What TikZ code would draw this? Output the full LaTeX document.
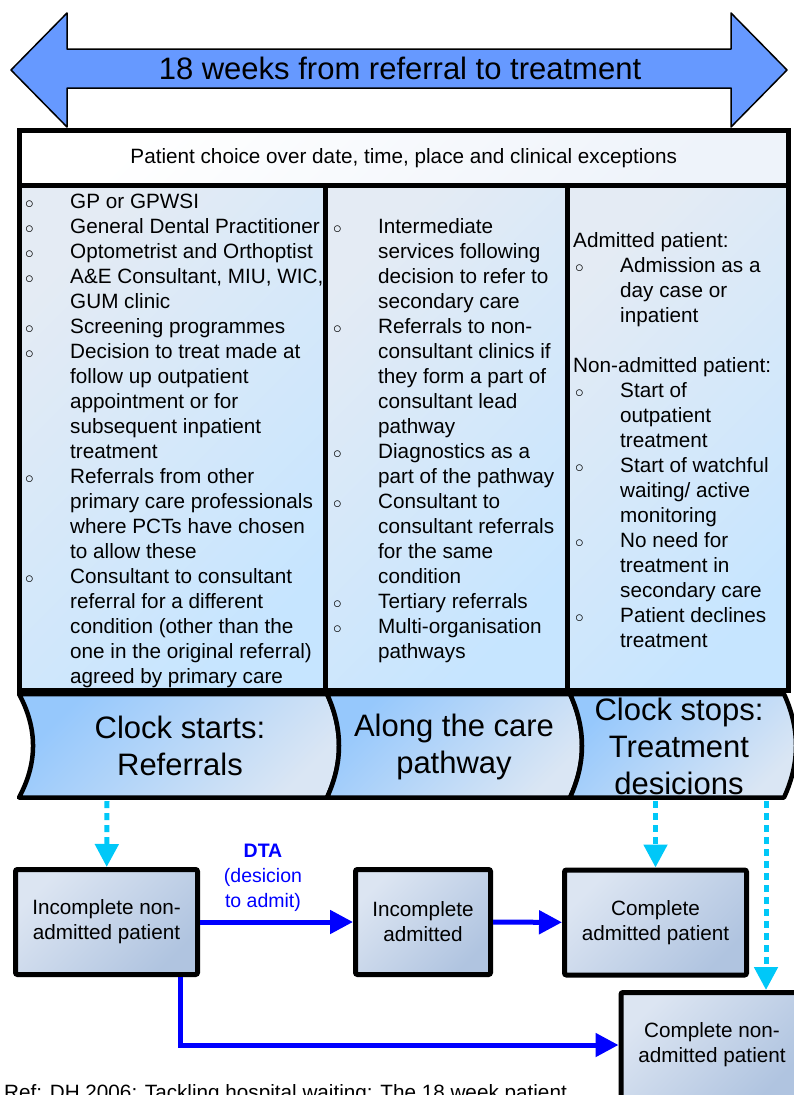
\documentclass[tikz,border=0pt]{standalone}
\usepackage{fontspec}
\setmainfont{Liberation Sans}
\usetikzlibrary{arrows.meta}
\definecolor{arrowfill}{HTML}{6699FF}
\definecolor{hdrdark}{HTML}{EEF3FA}
\definecolor{collight}{HTML}{E4EBF4}
\definecolor{coldark}{HTML}{C6E5FF}
\definecolor{bandlight}{HTML}{96C8FC}
\definecolor{banddark}{HTML}{DAE6F4}
\definecolor{boxlight}{HTML}{DCE5F2}
\definecolor{boxdark}{HTML}{B0C4E0}
\definecolor{flowblue}{HTML}{0000FF}
\definecolor{clockcyan}{HTML}{00C8F8}
\newcommand\bul{\hspace*{2pt}{\fontsize{18pt}{18pt}\selectfont$\circ$}}
\begin{document}
\begin{tikzpicture}[x=1pt,y=-1pt,
  frame/.style={draw=black,line width=5pt},
  colbox/.style={frame,top color=collight,bottom color=coldark,shading angle=45,minimum height=505pt},
  coltext/.style={anchor=north west,inner sep=0pt,font=\fontsize{20.7pt}{25pt}\selectfont},
  bandseg/.style={draw=black,line width=4.5pt,line join=round,top color=bandlight,bottom color=banddark,shading angle=45},
  bandtext/.style={align=center,font=\fontsize{31pt}{37pt}\selectfont},
  patbox/.style={draw=black,line width=5pt,rounded corners=2pt,top color=boxlight,bottom color=boxdark,shading angle=45,minimum height=105pt,align=center,font=\fontsize{20.7pt}{25pt}\selectfont},
  flow/.style={draw=flowblue,line width=5pt,-{Triangle[length=23pt,width=23pt]}},
  clock/.style={draw=clockcyan,line width=5pt,dash pattern=on 7pt off 5pt,-{Triangle[length=23pt,width=23pt]}},
  dta/.style={above=8pt,xshift=-13.5pt,inner sep=0pt,align=center,text=flowblue,font=\fontsize{19.5pt}{25pt}\selectfont}]
  \useasboundingbox (0,0) rectangle (794,1095);
  \path[draw=black,line width=1.5pt,line join=round,fill=arrowfill] (11,70) -- (67,13) -- (67,49) -- (731,49) -- (731,13) -- (787,70) -- (731,127) -- (731,88) -- (67,88) -- (67,127) -- cycle;
  \node[font=\fontsize{31pt}{37pt}\selectfont] (title) at (400,68) {18 weeks from referral to treatment};
  \node[colbox,minimum width=306pt] (col1) at (172.5,437.5) {};
  \node[colbox,minimum width=242pt] (col2) at (446.5,437.5) {};
  \node[colbox,minimum width=220.5pt] (col3) at (677.75,437.5) {};
  \node[frame,top color=white,bottom color=hdrdark,shading angle=45,minimum width=768.5pt,minimum height=55pt,text depth=3pt,font=\fontsize{20.7pt}{25pt}\selectfont] (hdr) at (403.75,157.5) {Patient choice over date, time, place and clinical exceptions};
  \node[coltext] (list1) at (23,191) {\begin{tabular}{@{}p{47pt}@{}l@{}}
    \bul & GP or GPWSI\\
    \bul & General Dental Practitioner\\
    \bul & Optometrist and Orthoptist\\
    \bul & A\&E Consultant, MIU, WIC,\\
         & GUM clinic\\
    \bul & Screening programmes\\
    \bul & Decision to treat made at\\
         & follow up outpatient\\
         & appointment or for\\
         & subsequent inpatient\\
         & treatment\\
    \bul & Referrals from other\\
         & primary care professionals\\
         & where PCTs have chosen\\
         & to allow these\\
    \bul & Consultant to consultant\\
         & referral for a different\\
         & condition (other than the\\
         & one in the original referral)\\
         & agreed by primary care
  \end{tabular}};
  \node[coltext] (list2) at (331,216) {\begin{tabular}{@{}p{47pt}@{}l@{}}
    \bul & Intermediate\\
         & services following\\
         & decision to refer to\\
         & secondary care\\
    \bul & Referrals to non-\\
         & consultant clinics if\\
         & they form a part of\\
         & consultant lead\\
         & pathway\\
    \bul & Diagnostics as a\\
         & part of the pathway\\
    \bul & Consultant to\\
         & consultant referrals\\
         & for the same\\
         & condition\\
    \bul & Tertiary referrals\\
    \bul & Multi-organisation\\
         & pathways
  \end{tabular}};
  \node[coltext] (list3) at (573,230) {\begin{tabular}{@{}p{47pt}@{}l@{}}
    \multicolumn{2}{@{}l@{}}{Admitted patient:}\\
    \bul & Admission as a\\
         & day case or\\
         & inpatient\\
    \multicolumn{2}{@{}l@{}}{}\\
    \multicolumn{2}{@{}l@{}}{Non-admitted patient:}\\
    \bul & Start of\\
         & outpatient\\
         & treatment\\
    \bul & Start of watchful\\
         & waiting/ active\\
         & monitoring\\
    \bul & No need for\\
         & treatment in\\
         & secondary care\\
    \bul & Patient declines\\
         & treatment
  \end{tabular}};
  \path[bandseg] (19,694) -- (327,694) .. controls (343,728.5) and (343,763) .. (327,797.5) -- (19,797.5) .. controls (37.7,763) and (37.7,728.5) .. (19,694) -- cycle;
  \path[bandseg] (327,694) -- (570,694) .. controls (586,728.5) and (586,763) .. (570,797.5) -- (327,797.5) .. controls (343,763) and (343,728.5) .. (327,694) -- cycle;
  \path[bandseg] (570,694) -- (784,694) .. controls (800,728.5) and (800,763) .. (784,797.5) -- (570,797.5) .. controls (586,763) and (586,728.5) .. (570,694) -- cycle;
  \node[bandtext] (seg1) at (180,745.5) {Clock starts:\\Referrals};
  \node[bandtext] (seg2) at (454,746.5) {Along the care\\pathway};
  \node[bandtext] (seg3) at (679,746.5) {Clock stops:\\Treatment\\desicions};
  \coordinate (st1) at (107,801);
  \coordinate (st2) at (655.5,801);
  \coordinate (st3) at (766,801);
  \node[patbox,minimum width=182pt] (b1) at (106.5,922) {Incomplete non-\\admitted patient};
  \node[patbox,minimum width=135pt] (b2) at (423,922) {Incomplete\\admitted};
  \node[patbox,minimum width=182pt] (b3) at (655.5,922.5) {Complete\\admitted patient};
  \node[patbox,minimum width=182pt] (b4) at (712,1045) {Complete non-\\admitted patient};
  \draw[clock] (st1) -- (b1);
  \draw[clock] (st2) -- (b3);
  \draw[clock] (st3) -- (st3 |- b4.north);
  \path (b1) edge[flow] node[dta] {\textbf{DTA}\\(desicion\\to admit)} (b2);
  \path (b2) edge[flow] (b3);
  \draw[flow] ([xshift=-20pt]b1.south east) |- (b4);
  \node[anchor=base west,inner sep=0pt,font=\fontsize{20.7pt}{25pt}\selectfont] (ref) at (4,1099) {Ref: DH 2006: Tackling hospital waiting: The 18 week patient};
\end{tikzpicture}
\end{document}
